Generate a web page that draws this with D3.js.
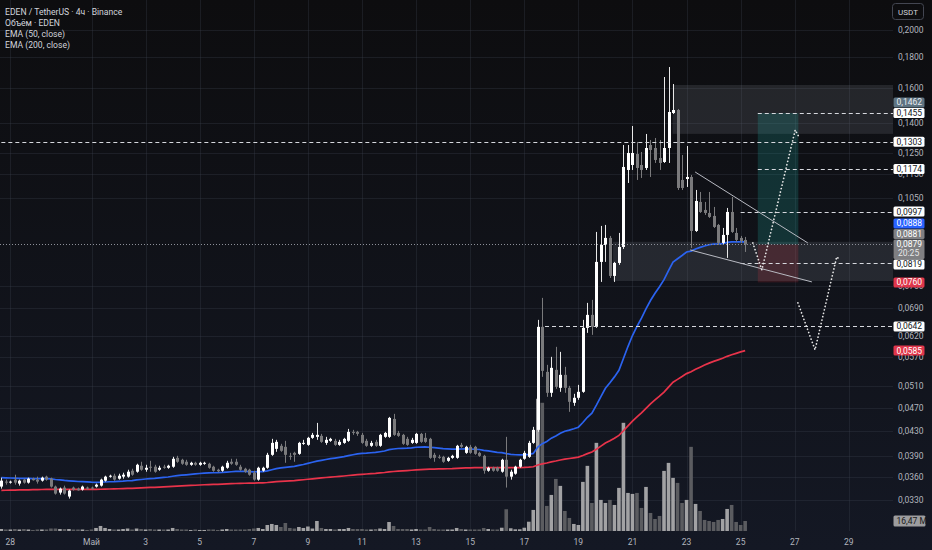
<!DOCTYPE html>
<html><head><meta charset="utf-8">
<script src="https://cdn.jsdelivr.net/npm/d3@7"></script>
<style>
html,body{margin:0;padding:0;background:#111217;}
svg{display:block;font-family:Roboto,"Noto Sans",sans-serif;}
</style></head><body>
<svg id="c" width="932" height="550"></svg>
<script>
// ---------- DATA (4h candles, EDEN/USDT) ----------
const firstBar = "2025-04-27T16:00:00Z";
const open = [
0.03474,0.03541,0.03527,0.03568,0.03514,0.03568,0.03527,0.03581,0.03568,0.03554,
0.03609,0.03581,0.03474,0.03395,0.03461,0.03344,0.03461,0.03447,0.03434,0.03461,
0.03461,0.03474,0.03487,0.03554,0.03609,0.03622,0.03581,0.03609,0.03609,0.03692,
0.03678,0.03763,0.03706,0.03749,0.03749,0.03706,0.03749,0.03734,0.03749,0.03879,
0.03850,0.03821,0.03777,0.03806,0.03777,0.03792,0.03792,0.03749,0.03706,0.03692,
0.03734,0.03821,0.03821,0.03749,0.03720,0.03706,0.03664,0.03568,0.03692,0.03734,
0.03924,0.04015,0.04062,0.04046,0.03909,0.03954,0.03939,0.04093,0.04077,0.04188,
0.04204,0.04220,0.04108,0.04140,0.04140,0.04077,0.04108,0.04140,0.04285,0.04285,
0.04236,0.04140,0.04062,0.04124,0.04062,0.04204,0.04204,0.04503,0.04268,0.04236,
0.04172,0.04108,0.04108,0.04252,0.04188,0.04172,0.03924,0.03894,0.03894,0.03835,
0.03879,0.03879,0.04077,0.03954,0.04046,0.04046,0.03954,0.03909,0.03692,0.03734,
0.03734,0.03678,0.03850,0.03609,0.03650,0.03749,0.03865,0.03894,0.04108,0.04318,
0.06409,0.05393,0.04977,0.05435,0.05073,0.05332,0.05073,0.04790,0.04883,0.04996,
0.06384,0.06710,0.06409,0.08221,0.08773,0.09013,0.07791,0.08189,0.08706,0.11695,
0.11921,0.12434,0.11921,0.11785,0.12870,0.12723,0.12245,0.12059,0.12723,0.14550,
0.14718,0.11255,0.11298,0.11385,0.09257,0.10346,0.10033,0.09918,0.09805,0.09473,
0.08841,0.09117,0.09956,0.09187,0.09013,0.08943];
const high = [
0.03595,0.03568,0.03554,0.03636,0.03568,0.03581,0.03595,0.03595,0.03609,0.03609,
0.03622,0.03595,0.03487,0.03461,0.03487,0.03434,0.03474,0.03461,0.03487,0.03474,
0.03474,0.03514,0.03581,0.03622,0.03636,0.03650,0.03650,0.03664,0.03706,0.03720,
0.03792,0.03821,0.03777,0.03835,0.03777,0.03763,0.03777,0.03777,0.03894,0.03909,
0.03865,0.03850,0.03821,0.03821,0.03821,0.03821,0.03806,0.03763,0.03720,0.03763,
0.03835,0.03865,0.03865,0.03777,0.03734,0.03720,0.03692,0.03749,0.03749,0.03954,
0.04172,0.04156,0.04093,0.04140,0.03954,0.03970,0.04124,0.04156,0.04204,0.04268,
0.04435,0.04252,0.04204,0.04188,0.04172,0.04156,0.04188,0.04334,0.04318,0.04301,
0.04268,0.04172,0.04140,0.04156,0.04252,0.04285,0.04538,0.04591,0.04301,0.04252,
0.04204,0.04188,0.04268,0.04268,0.04268,0.04188,0.03954,0.03924,0.03909,0.03894,
0.03924,0.04077,0.04108,0.04062,0.04077,0.04062,0.03970,0.03924,0.03749,0.03749,
0.03749,0.03865,0.04204,0.03706,0.03763,0.03865,0.03985,0.04140,0.04368,0.06583,
0.07162,0.05540,0.05713,0.05936,0.05823,0.05498,0.05112,0.04958,0.05131,0.06583,
0.07026,0.07107,0.09222,0.09437,0.09473,0.09082,0.08221,0.09187,0.12870,0.12870,
0.13842,0.13020,0.12530,0.13425,0.13120,0.13221,0.13120,0.16702,0.17354,0.16260,
0.14775,0.12387,0.12821,0.11473,0.10832,0.10749,0.10346,0.10749,0.10149,0.09509,
0.09364,0.10110,0.10546,0.09364,0.09082,0.09047];
const low = [
0.03447,0.03500,0.03514,0.03500,0.03487,0.03514,0.03514,0.03554,0.03514,0.03541,
0.03554,0.03461,0.03369,0.03369,0.03369,0.03318,0.03421,0.03421,0.03421,0.03434,
0.03434,0.03461,0.03474,0.03541,0.03595,0.03554,0.03568,0.03581,0.03595,0.03622,
0.03664,0.03692,0.03678,0.03678,0.03664,0.03692,0.03720,0.03720,0.03734,0.03806,
0.03777,0.03763,0.03763,0.03763,0.03763,0.03777,0.03720,0.03678,0.03670,0.03678,
0.03720,0.03777,0.03763,0.03692,0.03664,0.03622,0.03554,0.03554,0.03678,0.03720,
0.03909,0.03970,0.03970,0.03806,0.03850,0.03821,0.03924,0.04077,0.04062,0.04172,
0.04156,0.04108,0.04077,0.04124,0.04062,0.04062,0.04093,0.04124,0.04236,0.04220,
0.04093,0.04046,0.04046,0.04046,0.04046,0.04188,0.04188,0.04220,0.04204,0.04077,
0.04062,0.04093,0.04093,0.04108,0.04108,0.03865,0.03821,0.03865,0.03806,0.03821,
0.03865,0.03865,0.04031,0.03939,0.03939,0.03924,0.03894,0.03650,0.03678,0.03678,
0.03678,0.03664,0.03461,0.03568,0.03636,0.03734,0.03850,0.03879,0.04093,0.04285,
0.05291,0.04901,0.04901,0.05053,0.04996,0.04977,0.04627,0.04735,0.04845,0.04977,
0.06263,0.06215,0.06384,0.07614,0.08221,0.07731,0.07614,0.08127,0.08640,0.11126,
0.11695,0.11255,0.11342,0.11695,0.11385,0.12013,0.11695,0.12013,0.12013,0.14494,
0.10832,0.10832,0.10957,0.08673,0.09222,0.09918,0.09843,0.09730,0.09364,0.08773,
0.08773,0.08348,0.09187,0.08875,0.08841,0.08541];
const close = [
0.03554,0.03527,0.03541,0.03527,0.03554,0.03527,0.03581,0.03560,0.03541,0.03595,
0.03568,0.03474,0.03382,0.03447,0.03382,0.03421,0.03434,0.03425,0.03474,0.03447,
0.03447,0.03500,0.03568,0.03609,0.03622,0.03568,0.03622,0.03636,0.03678,0.03636,
0.03777,0.03706,0.03734,0.03734,0.03678,0.03734,0.03734,0.03763,0.03865,0.03821,
0.03792,0.03777,0.03806,0.03777,0.03806,0.03806,0.03734,0.03692,0.03685,0.03749,
0.03806,0.03792,0.03777,0.03706,0.03678,0.03636,0.03568,0.03734,0.03734,0.03924,
0.04108,0.04124,0.03985,0.03924,0.03894,0.03924,0.04108,0.04108,0.04188,0.04236,
0.04236,0.04124,0.04156,0.04172,0.04077,0.04124,0.04172,0.04285,0.04268,0.04252,
0.04108,0.04062,0.04108,0.04062,0.04236,0.04268,0.04521,0.04236,0.04220,0.04093,
0.04077,0.04156,0.04252,0.04124,0.04124,0.03879,0.03879,0.03879,0.03821,0.03879,
0.03909,0.04062,0.04046,0.04046,0.03954,0.03939,0.03909,0.03692,0.03734,0.03692,
0.03692,0.03850,0.03609,0.03678,0.03749,0.03850,0.03954,0.04108,0.04318,0.06409,
0.05414,0.04977,0.05477,0.05092,0.05332,0.05073,0.04808,0.04883,0.04996,0.06384,
0.06710,0.06409,0.08221,0.08773,0.09013,0.07791,0.08189,0.08706,0.11830,0.12482,
0.12482,0.11785,0.11695,0.12723,0.12626,0.12152,0.12013,0.12723,0.14606,0.14718,
0.10915,0.10915,0.11385,0.09257,0.10385,0.09956,0.09918,0.09768,0.09400,0.08841,
0.09117,0.09956,0.09222,0.08943,0.08909,0.08790];
// volume in millions
const volume = [
3.3,2.5,2.5,3.3,2.5,3.3,2.5,1.7,2.5,2.5,
2.5,4.1,4.1,3.3,3.3,3.3,2.5,2.5,2.5,1.7,
2.5,5,8.3,5,3.3,2.5,2.5,3.3,4.1,2.5,
4.1,3.3,2.5,3.3,2.5,2.5,2.5,2.5,5,3.3,
2.5,2.5,1.7,2.5,1.7,1.7,2.5,2.5,1.7,2.5,
3.3,2.5,2.5,2.5,2.5,3.3,4.1,5,3.3,9.9,
11.6,9.9,6.6,13.2,5,4.1,6.6,5,7.4,4.1,
16.5,5,3.3,3.3,2.5,3.3,3.3,5,3.3,3.3,
3.3,2.5,2.5,3.3,4.1,3.3,14.8,8.3,3.3,3.3,
3.3,2.5,3.3,2.5,2.5,6.6,3.3,2.5,2.5,2.5,
2.5,5,3.3,2.5,2.5,2.5,2.5,5,3.3,2.5,
2.5,5.4,35.8,4.5,2.8,2.8,5.4,15.3,34.7,217.8,
211.2,41.3,59.4,85.8,74.3,33,21.5,11.6,9.9,80.9,
107.3,46.2,145.2,51.2,46.2,51.2,42.9,71,178.2,62.7,
61.1,62.7,38,72.6,29.7,19.8,24.8,99,112.2,87.5,
79.2,46.2,51.2,138.6,44.6,33,18.2,16.5,14.9,18.2,
19.8,36.3,42.9,14.9,9.9,16.47];
const ema50Seed = 0.03595, ema200Seed = 0.03425;

const dayTickDates = ["2025-04-28","2025-05-01","2025-05-03","2025-05-05","2025-05-07","2025-05-09","2025-05-11","2025-05-13","2025-05-15","2025-05-17","2025-05-19","2025-05-21","2025-05-23","2025-05-25","2025-05-27","2025-05-29"];
const dayTickLabels = ["28","Май","3","5","7","9","11","13","15","17","19","21","23","25","27","29"];
const priceTicks = [0.2,0.18,0.16,0.14,0.125,0.115,0.105,0.075,0.069,0.062,0.057,0.051,0.047,0.043,0.039,0.036,0.033];
const legendLines = ["EDEN / TetherUS · 4ч · Binance","Объём · EDEN","EMA (50, close)","EMA (200, close)"];

// drawings (bar index, price)
const hLinePrices = [0.1303,0.1455,0.1174,0.0997,0.0819,0.0642];
const hLineFrom   = [0,167.8,167.8,164.0,164.0,120.6];
const zoneUpper = [148.9, 0.1620, 0.1343];
const zoneLower = [135.7, 0.0888, 0.0764];
const longPos = {from:167.8, to:176.8, entry:0.0879, target:0.1455, stop:0.0760};
const triUpper = [[153.9,0.11606],[178.9,0.08841]];
const triLower = [[152.8,0.08607],[179.8,0.07614]];
const path1 = [[166.7,0.08841],[168.7,0.07972],[176.1,0.13632],[176.9,0.13287]];
const path2 = [[176.7,0.07026],[180.5,0.05868],[185.3,0.08380],[186.1,0.08284]];
const markerPrices = [0.1462,0.1455,0.1303,0.1174,0.0997,0.0881,0.0819,0.0760,0.0642];
const countdown = "20:25";

// ---------- SETUP ----------
const W=932,H=550, plotR=893, plotB=531;
const svg=d3.select("#c");
const defs=svg.append("defs");
const g0=defs.append("linearGradient").attr("id","bg").attr("x1",0).attr("y1",0).attr("x2",0).attr("y2",1);
g0.append("stop").attr("offset","0%").attr("stop-color","#0d0d0f");
g0.append("stop").attr("offset","100%").attr("stop-color","#141824");
svg.append("rect").attr("width",W).attr("height",H).attr("fill","url(#bg)");
defs.append("clipPath").attr("id","plot").append("rect").attr("x",0).attr("y",0).attr("width",plotR).attr("height",plotB);

const barMs=4*3600e3, t0=new Date(firstBar).getTime();
const N=open.length;
const x=d3.scaleUtc().domain([new Date(t0),new Date(t0+100*barMs)]).range([1.34,1.34+100*4.508]);
const X=i=>x(new Date(t0+i*barMs));
const y=d3.scaleLog().domain([0.033,0.2]).range([500,30]);
const yv=d3.scaleLinear().domain([0,16.47]).range([plotB,plotB-10]);
const fmt=v=>d3.format(".4f")(v).replace(".",",");

// grid
const grid=svg.append("g");
const parse=d3.utcParse("%Y-%m-%d");
dayTickDates.forEach(d=>{const xx=Math.round(x(parse(d)))+0.5;
  grid.append("line").attr("x1",xx).attr("x2",xx).attr("y1",0).attr("y2",plotB).attr("stroke","rgba(60,64,78,0.32)");});
priceTicks.forEach(p=>{const yy=Math.round(y(p))+0.5;
  grid.append("line").attr("x1",0).attr("x2",plotR).attr("y1",yy).attr("y2",yy).attr("stroke","rgba(60,64,78,0.32)");});

const plot=svg.append("g").attr("clip-path","url(#plot)");

// zones
plot.append("rect").attr("x",X(zoneUpper[0])).attr("width",plotR-X(zoneUpper[0])).attr("y",y(zoneUpper[1])).attr("height",y(zoneUpper[2])-y(zoneUpper[1])).attr("fill","rgba(125,128,140,0.2)");
plot.append("rect").attr("x",X(zoneLower[0])).attr("width",plotR-X(zoneLower[0])).attr("y",y(zoneLower[1])).attr("height",y(zoneLower[2])-y(zoneLower[1])).attr("fill","rgba(125,128,140,0.2)");
// long position
plot.append("rect").attr("x",X(longPos.from)).attr("width",X(longPos.to)-X(longPos.from)).attr("y",y(longPos.target)).attr("height",y(longPos.entry)-y(longPos.target)).attr("fill","rgba(30,170,160,0.22)");
plot.append("rect").attr("x",X(longPos.from)).attr("width",X(longPos.to)-X(longPos.from)).attr("y",y(longPos.entry)).attr("height",y(longPos.stop)-y(longPos.entry)).attr("fill","rgba(242,54,69,0.16)");

// volume
const idx=d3.range(N);
plot.append("g").selectAll("rect").data(idx).join("rect")
 .attr("x",i=>X(i)-1.8).attr("width",3.6)
 .attr("y",i=>yv(volume[i])).attr("height",i=>plotB-yv(volume[i]))
 .attr("fill",i=>close[i]>=open[i]?"#a2a2a4":"#5b5c60");

// EMAs
function ema(src,p,seed){const a=2/(p+1);let e=seed;return src.map((c,i)=>{if(i>0)e=e+a*(c-e);return e;});}
const e50=ema(close,50,ema50Seed), e200=ema(close,200,ema200Seed);
const ln=d3.line().x((d,i)=>X(i)).y(d=>y(d));
plot.append("path").attr("d",ln(e200)).attr("fill","none").attr("stroke","#e8334a").attr("stroke-width",1.7);
plot.append("path").attr("d",ln(e50)).attr("fill","none").attr("stroke","#2b63f0").attr("stroke-width",1.7);

// candles
const cg=plot.append("g");
cg.selectAll("line").data(idx).join("line")
 .attr("x1",i=>Math.round(X(i))+0.5).attr("x2",i=>Math.round(X(i))+0.5)
 .attr("y1",i=>y(high[i])).attr("y2",i=>y(low[i]))
 .attr("stroke",i=>close[i]>=open[i]?"#e8e8e8":"#7a7a7c").attr("stroke-width",1);
cg.selectAll("rect").data(idx).join("rect")
 .attr("x",i=>Math.round(X(i))-1).attr("width",3)
 .attr("y",i=>y(Math.max(open[i],close[i])))
 .attr("height",i=>Math.max(1,y(Math.min(open[i],close[i]))-y(Math.max(open[i],close[i]))))
 .attr("fill",i=>close[i]>=open[i]?"#ffffff":"#7a7a7c");

// horizontal dashed lines
hLinePrices.forEach((p,k)=>{const yy=Math.round(y(p))+0.5;
 plot.append("line").attr("x1",X(hLineFrom[k])).attr("x2",plotR).attr("y1",yy).attr("y2",yy)
  .attr("stroke","#d6d8de").attr("stroke-width",1).attr("stroke-dasharray","4,3");});
// current price dotted
const lastP=close[N-1];
plot.append("line").attr("x1",0).attr("x2",plotR).attr("y1",Math.round(y(lastP))+0.5).attr("y2",Math.round(y(lastP))+0.5)
 .attr("stroke","#8d9099").attr("stroke-dasharray","1,2");
// triangle
const lp=d3.line().x(d=>X(d[0])).y(d=>y(d[1]));
[triUpper,triLower].forEach(t=>plot.append("path").attr("d",lp(t)).attr("fill","none").attr("stroke","#b8bac2").attr("stroke-width",1));
// dotted projection paths
[path1,path2].forEach(t=>plot.append("path").attr("d",lp(t)).attr("fill","none").attr("stroke","#e6e6e6")
 .attr("stroke-width",1.7).attr("stroke-dasharray","0.1,3.4").attr("stroke-linecap","round"));

// legend
legendLines.forEach((t,k)=>svg.append("text").attr("x",5).attr("y",14.5+k*11.2).attr("fill","#d1d4dc").attr("font-size","8.6px").text(t));

// date axis
dayTickDates.forEach((d,k)=>svg.append("text").attr("x",x(parse(d))).attr("y",545).attr("text-anchor","middle")
 .attr("fill","#b2b5be").attr("font-size","8.5px").text(dayTickLabels[k]));

// price axis ticks
const ax=svg.append("g");
priceTicks.forEach(p=>ax.append("text").attr("x",898).attr("y",y(p)+3).attr("fill","#b2b5be").attr("font-size","8.5px").text(fmt(p)));

// USDT box
svg.append("rect").attr("x",892.5).attr("y",3.5).attr("width",31).attr("height",16).attr("rx",3).attr("fill","none").attr("stroke","#434651");
svg.append("text").attr("x",908).attr("y",14.5).attr("text-anchor","middle").attr("fill","#d1d4dc").attr("font-size","8px").text("USDT");

// price markers
const styles={white:["#ffffff","#131722"],zone:["#5e7482","#e8eaf0"],blue:["#2962ff","#ffffff"],gray:["#7f7f82","#ffffff"],red:["#e0364b","#ffffff"]};
const markerStyle=["zone","white","white","white","white","gray","white","red","white"];
let marks=markerPrices.map((p,k)=>({p,st:markerStyle[k]}));
marks.push({p:e50[N-1],st:"blue"});
marks.push({p:e200[N-1],st:"red"});
marks.push({p:lastP,st:"gray",fixed:true});
marks.forEach(m=>{m.c=y(m.p);m.top=m.c-5;m.bot=m.fixed?m.c+14.5:m.c+5;});
marks.sort((a,b)=>a.c-b.c);
const f=marks.findIndex(m=>m.fixed);
for(let i=f-1;i>=0;i--){const nb=marks[i+1];if(marks[i].bot>nb.top-0.5){const d=marks[i].bot-(nb.top-0.5);marks[i].c-=d;marks[i].top-=d;marks[i].bot-=d;}}
for(let i=f+1;i<marks.length;i++){const pb=marks[i-1];if(marks[i].top<pb.bot+0.5){const d=pb.bot+0.5-marks[i].top;marks[i].c+=d;marks[i].top+=d;marks[i].bot+=d;}}
const mg=svg.append("g");
marks.forEach(m=>{const [bg,fg]=styles[m.st];
 mg.append("rect").attr("x",893.5).attr("y",m.top).attr("width",31).attr("height",m.bot-m.top).attr("rx",1.5).attr("fill",bg);
 mg.append("text").attr("x",896.5).attr("y",m.c+3).attr("fill",fg).attr("font-size","8.5px").text(fmt(m.p));
 if(m.fixed) mg.append("text").attr("x",898).attr("y",m.c+12).attr("fill","#e8e8e8").attr("font-size","8.5px").text(countdown);
});
// volume marker
const lv=volume[N-1], vy=yv(lv);
mg.append("rect").attr("x",893.5).attr("y",vy-5.5).attr("width",32).attr("height",11).attr("rx",1.5).attr("fill","#9d9d9f");
mg.append("text").attr("x",896.5).attr("y",vy+3).attr("fill","#1a1a1a").attr("font-size","8.5px").text(d3.format(".2f")(lv).replace(".",",")+" M");
</script>
</body></html>
